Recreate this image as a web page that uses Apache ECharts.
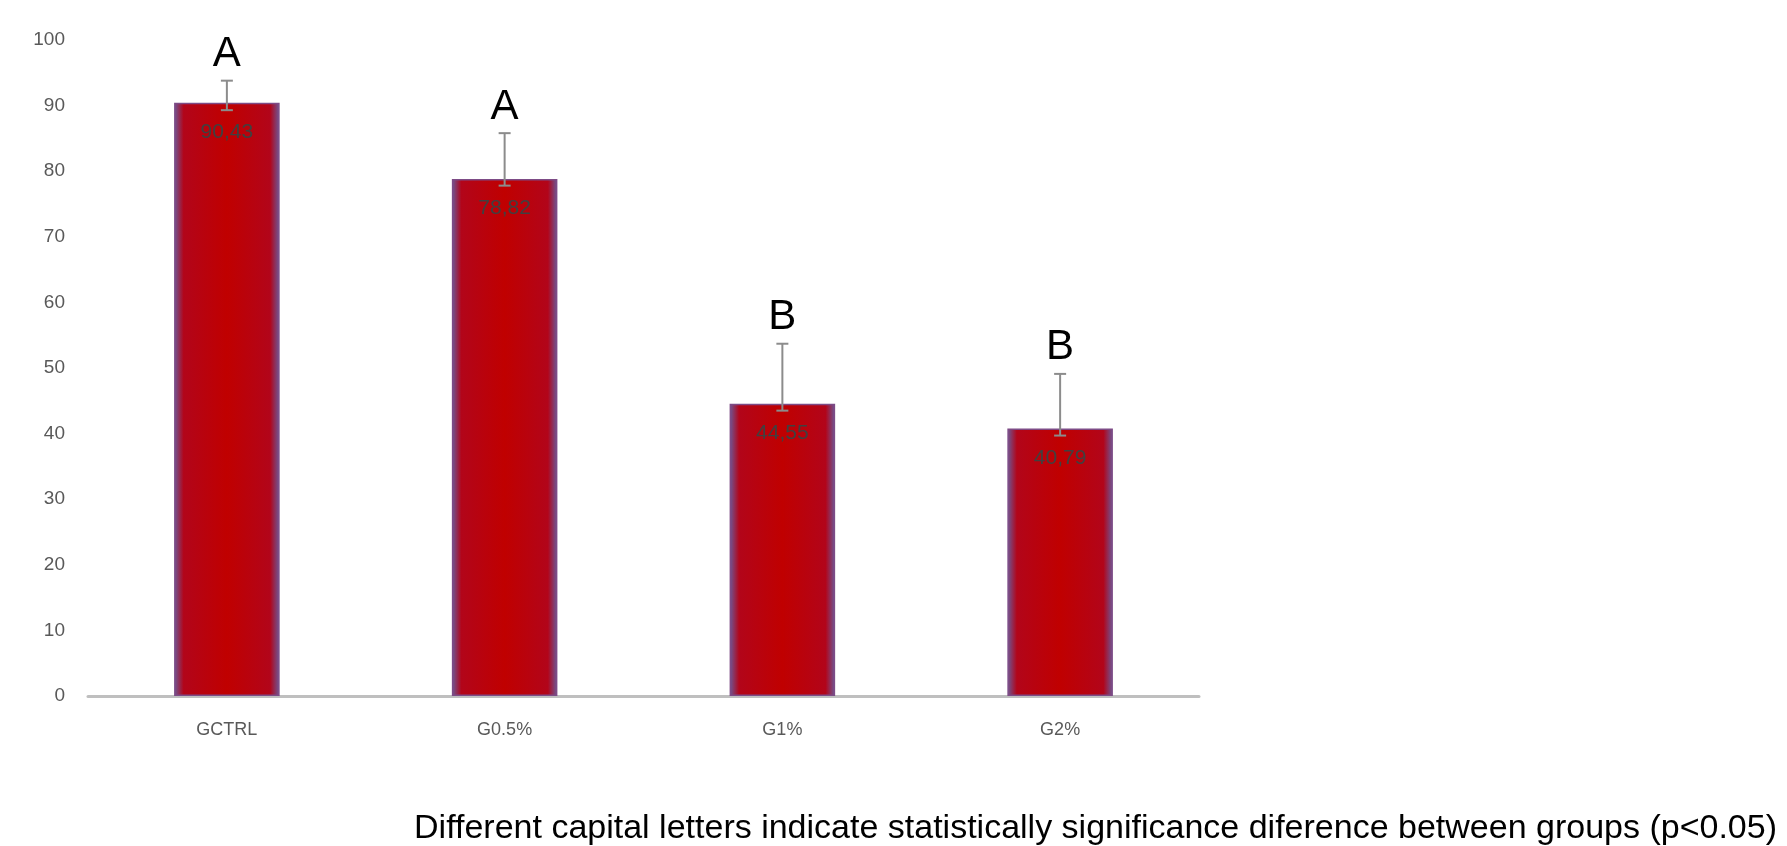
<!DOCTYPE html>
<html>
<head lang="en">
    <meta charset="UTF-8">
    <title>eCharts</title>
    <script type="text/javascript" src="https://cdn.jsdelivr.net/npm/echarts@6/dist/echarts.min.js"></script>
    <style>
        html, body { margin: 0; padding: 0; background: #fff; }
        #myBarChart { width: 1787px; height: 846px; }
    </style>
</head>
<body>
<div id="myBarChart"></div>
<script type="text/javascript">
    var categories = ['GCTRL', 'G0.5%', 'G1%', 'G2%'];
    var values = [90.43, 78.82, 44.55, 40.79];
    var errUpper = [93.8, 85.8, 53.7, 49.1];   /*误差线上端*/
    var errLower = [89.3, 77.8, 43.5, 39.7];   /*误差线下端*/
    var letters = ['A', 'A', 'B', 'B'];
    var yMin = 0, yMax = 100, yStep = 10;
    var footnote = 'Different capital letters indicate statistically significance diference between groups (p<0.05)';

    var myChart = echarts.init(document.getElementById('myBarChart'));

    var barColor = new echarts.graphic.LinearGradient(0, 0, 1, 0, [
        {offset: 0, color: '#6a5a9a'},
        {offset: 0.09, color: '#b2051a'},
        {offset: 0.5, color: '#c00000'},
        {offset: 0.91, color: '#b2051a'},
        {offset: 1, color: '#6a5a9a'}
    ]);

    myChart.setOption({
        animation: false,
        title: {
            text: footnote,
            right: 5,
            top: 807,
            textStyle: {
                fontFamily: 'Liberation Sans',
                fontSize: 34,
                fontWeight: 'normal',
                color: '#000'
            }
        },
        grid: {left: 88, right: 588, top: 40, bottom: 150},
        xAxis: {
            type: 'category',
            data: categories,
            axisLine: {lineStyle: {color: '#bfbfbf', width: 3}},
            axisTick: {show: false},
            axisLabel: {
                margin: 25,
                fontFamily: 'Liberation Sans',
                fontSize: 18,
                color: '#595959'
            }
        },
        yAxis: {
            type: 'value',
            min: yMin,
            max: yMax,
            interval: yStep,
            splitLine: {show: false},
            axisLine: {show: false},
            axisTick: {show: false},
            axisLabel: {
                margin: 23,
                fontFamily: 'Liberation Sans',
                fontSize: 19,
                color: '#595959'
            }
        },
        series: [{
            name: 'bar',
            type: 'bar',
            data: values,
            barWidth: '38%',
            itemStyle: {
                color: barColor,
                borderColor: '#7d4b86',
                borderWidth: 1.5
            },
            label: {
                show: true,
                position: 'insideTop',
                distance: 19,
                fontFamily: 'Liberation Sans',
                fontSize: 21,
                color: '#404040',
                formatter: function (p) {
                    return p.value.toFixed(2).replace('.', ',');
                }
            }
        }, {
            name: 'error',
            type: 'custom',
            z: 3,
            data: categories.map(function (c, i) { return [i, errUpper[i], errLower[i]]; }),
            renderItem: function (params, api) {
                var hi = api.coord([api.value(0), api.value(1)]);
                var lo = api.coord([api.value(0), api.value(2)]);
                var w = 6;
                var st = {stroke: '#8c8c8c', lineWidth: 2};
                return {
                    type: 'group',
                    children: [
                        {type: 'line', shape: {x1: hi[0], y1: hi[1], x2: lo[0], y2: lo[1]}, style: st},
                        {type: 'line', shape: {x1: hi[0] - w, y1: hi[1], x2: hi[0] + w, y2: hi[1]}, style: st},
                        {type: 'line', shape: {x1: lo[0] - w, y1: lo[1], x2: lo[0] + w, y2: lo[1]}, style: st},
                        {
                            type: 'text',
                            style: {
                                text: letters[params.dataIndex],
                                x: hi[0],
                                y: hi[1] - 26,
                                align: 'center',
                                verticalAlign: 'middle',
                                fontFamily: 'Liberation Sans',
                                fontSize: 42,
                                fill: '#000'
                            }
                        }
                    ]
                };
            }
        }]
    });
</script>
</body>
</html>
